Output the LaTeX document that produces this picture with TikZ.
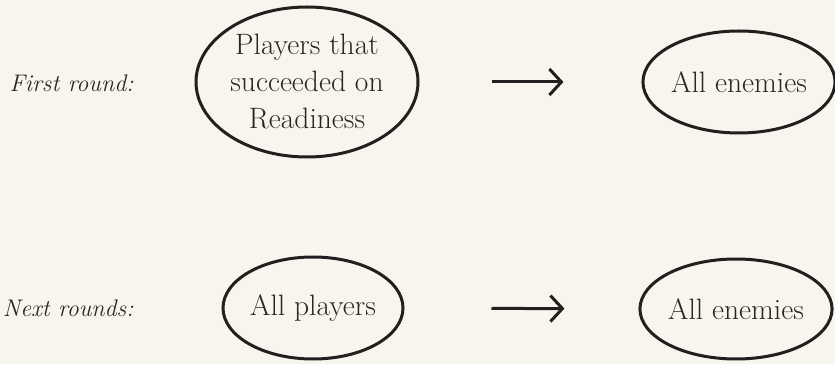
\documentclass[tikz,border=0pt]{standalone}
\usepackage{tikz}
\usetikzlibrary{arrows.meta,shapes.geometric}
\definecolor{paper}{HTML}{F8F5EE}
\definecolor{ink}{HTML}{231F1E}
\definecolor{txt}{HTML}{2A2624}

\begin{document}
\begin{tikzpicture}[x=1pt,y=1pt,
    group/.style={draw=ink,ellipse,line width=3pt,inner sep=0pt,text=txt,align=center,font=\fontsize{29.5}{37}\selectfont},
    roundlabel/.style={anchor=east,text=txt,font=\fontsize{24}{30}\selectfont\itshape},
    turn/.style={-{Straight Barb[length=12pt,width=26pt]},line width=3pt,draw=ink}]
    \fill[paper] (0,0) rectangle (835,364);
    \useasboundingbox (0,0) rectangle (835,364);
    % first round
    \node[roundlabel] (first) at (137,281) {First round:};
    \node[group,minimum width=222pt,minimum height=150pt] (ready) at (307,282) {Players that\\succeeded on\\Readiness};
    \node[group,minimum width=170pt,minimum height=102pt] (foes1) at (739,282) {All enemies};
    \draw[turn,shorten <=72pt,shorten >=78pt] (ready) -- (foes1);
    % next rounds
    \node[roundlabel] (next) at (137,56) {Next rounds:};
    \node[group,minimum width=180pt,minimum height=102pt] (all) at (313,56) {All players};
    \node[group,minimum width=176pt,minimum height=100pt] (foes2) at (736,55) {All enemies};
    \draw[turn,shorten <=87pt,shorten >=74pt] (all) -- (foes2);
\end{tikzpicture}
\end{document}
